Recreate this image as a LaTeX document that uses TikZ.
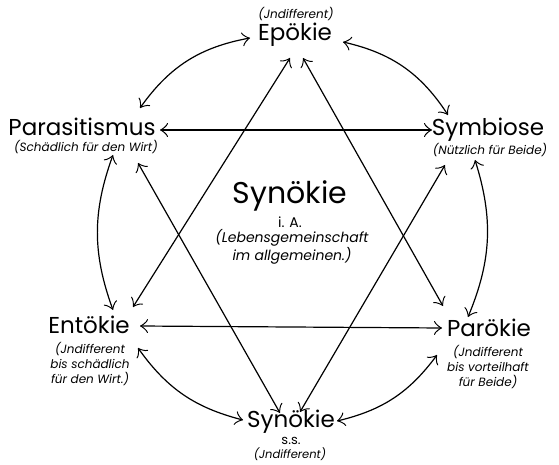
\documentclass[tikz,border=0pt]{standalone}
\usepackage{fontspec}
\setmainfont{Poppins}
\usepackage{tikz}
\usetikzlibrary{arrows.meta}

\tikzset{
    big/.style={font=\fontsize{23}{25}\selectfont, inner sep=0pt},
    sub/.style={font=\fontsize{12}{15}\selectfont\itshape, inner sep=0pt, align=center},
    rel/.style={line width=1.2pt, {Classical TikZ Rightarrow[length=8pt,width=14pt]}-{Classical TikZ Rightarrow[length=8pt,width=14pt]}}
}

\begin{document}
\begin{tikzpicture}[x=1pt, y=-1pt]
    \useasboundingbox (0,0) rectangle (559,465);
    % Knoten - Sechseck
    \node[big] (epo) at (295,35) {Epökie};
    \node[sub] (epoI) at (296,14) {(Jndifferent)};
    \node[big] (para) at (82,127) {Parasitismus};
    \node[sub] (paraI) at (86,147) {(Schädlich für den Wirt)};
    \node[big] (sym) at (488,130) {Symbiose};
    \node[sub] (symI) at (490,150) {(Nützlich für Beide)};
    \node[big] (ent) at (89,325) {Entökie};
    \node[sub] (entI) at (90,364) {(Jndifferent\\bis schädlich\\für den Wirt.)};
    \node[big] (par) at (489,328) {Parökie};
    \node[sub] (parI) at (488,367) {(Jndifferent\\bis vorteilhaft\\für Beide)};
    \node[big] (syss) at (291,422) {Synökie};
    \node[sub, font=\fontsize{13}{14}\selectfont] (syssI) at (291,441) {s.s.};
    \node[sub, font=\fontsize{11.5}{14}\selectfont\itshape] (syssII) at (290,454) {(Jndifferent)};
    % Mitte
    \node[big, font=\fontsize{30}{32}\selectfont] (syn) at (290,196) {Synökie};
    \node[sub, font=\fontsize{14}{15}\selectfont] (synI) at (290,222) {i. A.};
    \node[sub, font=\fontsize{14}{16}\selectfont\itshape] (synII) at (292,247) {(Lebensgemeinschaft\\im allgemeinen.)};

    % Bogen - aussen
    \draw[rel] ([shift={(-45,3)}]epo.center) to[bend right=22] ([shift={(58,-19)}]para.center);
    \draw[rel] ([shift={(48,7)}]epo.center) to[bend left=22] ([shift={(-40,-15)}]sym.center);
    \draw[rel] ([shift={(31,28)}]para.center) to[bend right=20] ([shift={(24,-15)}]ent.center);
    \draw[rel] ([shift={(-13,30)}]sym.center) to[bend left=20] ([shift={(-21,-11)}]par.center);
    \draw[rel] ([shift={(49,23)}]ent.center) to[bend right=20] ([shift={(-48,-2)}]syss.center);
    \draw[rel] ([shift={(46,-1)}]syss.center) to[bend right=20] ([shift={(-52,27)}]par.center);

    % Stern - zwei Dreiecke
    \draw[rel] ([shift={(-5,23)}]epo.center) -- ([shift={(44,-18)}]ent.center);
    \draw[rel] ([shift={(8,23)}]epo.center) -- ([shift={(-46,-22)}]par.center);
    \draw[rel] ([shift={(51,1)}]ent.center) -- ([shift={(-47,0)}]par.center);
    \draw[rel] ([shift={(78,3)}]para.center) -- ([shift={(-56,0)}]sym.center);
    \draw[rel] ([shift={(56,36)}]para.center) -- ([shift={(-11,-9)}]syss.center);
    \draw[rel] ([shift={(-43,35)}]sym.center) -- ([shift={(9,-10)}]syss.center);
\end{tikzpicture}
\end{document}
